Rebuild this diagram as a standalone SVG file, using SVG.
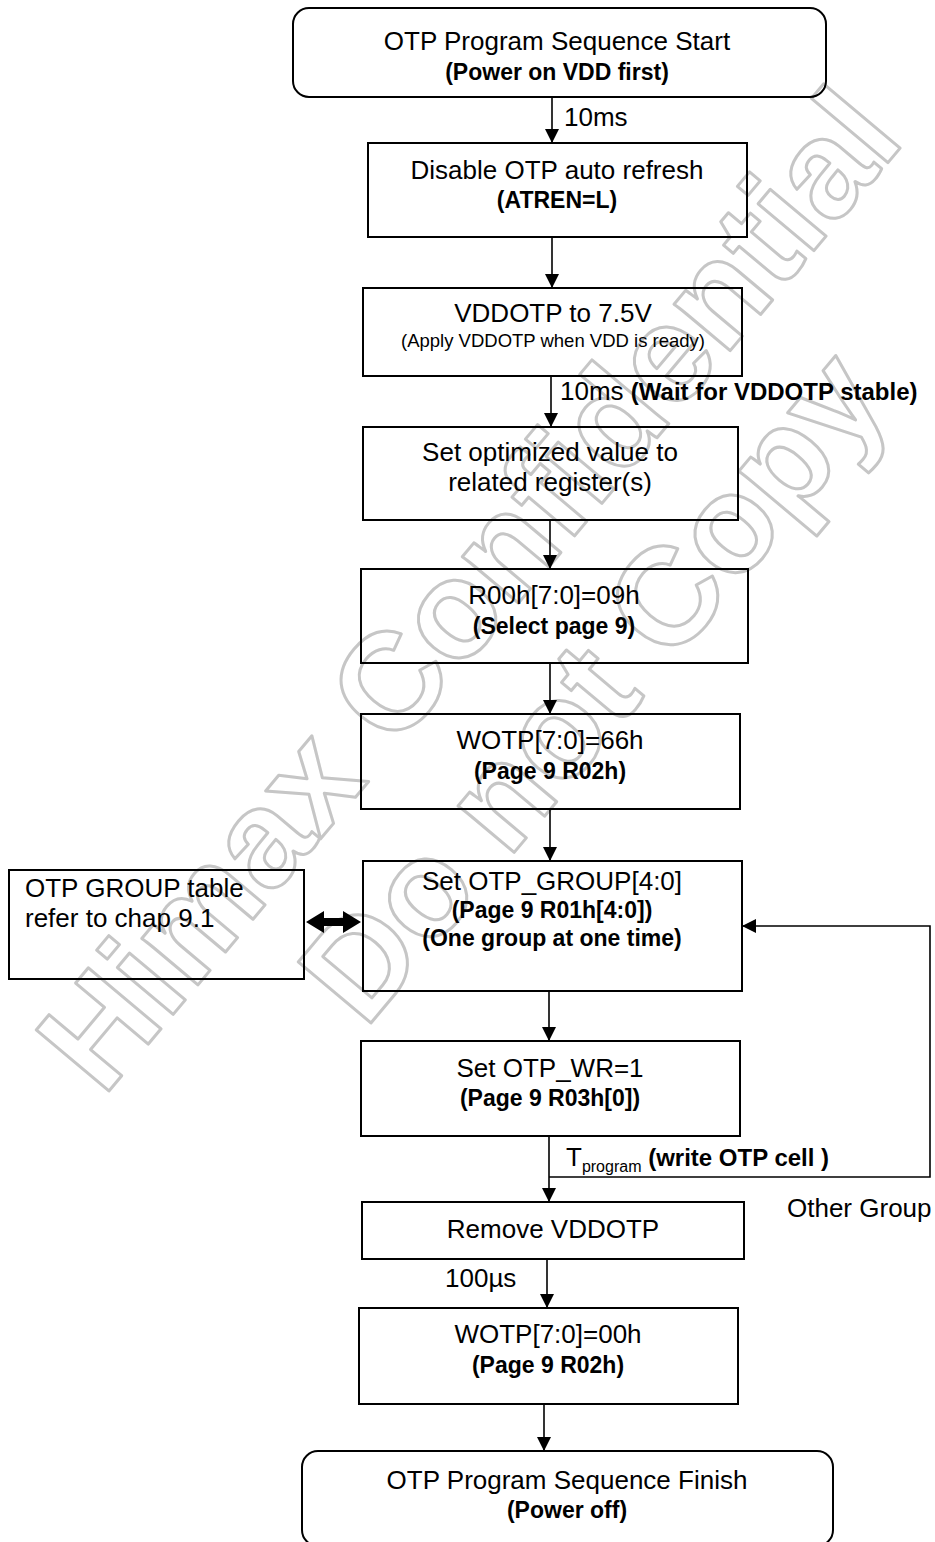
<svg xmlns="http://www.w3.org/2000/svg" width="935" height="1542" viewBox="0 0 935 1542">
<style>
.box{fill:none;stroke:#000;stroke-width:2}
.t{font-family:"Liberation Sans",Arial,sans-serif;font-size:26px;fill:#000;text-anchor:middle}
.b{font-family:"Liberation Sans",Arial,sans-serif;font-size:23px;font-weight:bold;fill:#000;text-anchor:middle}
.s{font-family:"Liberation Sans",Arial,sans-serif;font-size:18.5px;fill:#000;text-anchor:middle}
.l{font-family:"Liberation Sans",Arial,sans-serif;font-size:26px;fill:#000}
.con{fill:none;stroke:#000;stroke-width:1.6}
.wm{font-family:"Liberation Sans",Arial,sans-serif;font-size:138px;font-weight:bold;fill:none;stroke:#c6c6c6;stroke-width:3;stroke-linejoin:round}
</style>
<defs>
<marker id="ah" viewBox="0 0 14 14" refX="14" refY="7" markerWidth="14" markerHeight="14" markerUnits="userSpaceOnUse" orient="auto">
<path d="M0,0 L14,7 L0,14 z" fill="#000"/>
</marker>
</defs>
<g id="watermark">
<text class="wm" transform="translate(103,1098) rotate(-50)">Himax Confidential</text>
<text class="wm" transform="translate(365,1030) rotate(-50)">Do not Copy</text>
</g>
<g id="connectors">
<line class="con" x1="552" y1="97" x2="552" y2="143" marker-end="url(#ah)"/>
<line class="con" x1="552" y1="237" x2="552" y2="288" marker-end="url(#ah)"/>
<line class="con" x1="551" y1="376" x2="551" y2="427" marker-end="url(#ah)"/>
<line class="con" x1="550" y1="520" x2="550" y2="569" marker-end="url(#ah)"/>
<line class="con" x1="550" y1="663" x2="550" y2="714" marker-end="url(#ah)"/>
<line class="con" x1="550" y1="809" x2="550" y2="861" marker-end="url(#ah)"/>
<line class="con" x1="549" y1="991" x2="549" y2="1041" marker-end="url(#ah)"/>
<line class="con" x1="549" y1="1136" x2="549" y2="1202" marker-end="url(#ah)"/>
<path class="con" d="M549,1177 H930 V926 H742" marker-end="url(#ah)"/>
<line class="con" x1="547" y1="1259" x2="547" y2="1308" marker-end="url(#ah)"/>
<line class="con" x1="544" y1="1404" x2="544" y2="1451" marker-end="url(#ah)"/>
<polygon points="306,922 324,911 324,918 343,918 343,911 361,922 343,933 343,926 324,926 324,933" fill="#000"/>
<text class="l" x="564" y="126">10ms</text>
<text class="l" x="560" y="400">10ms <tspan font-weight="bold" font-size="24">(Wait for VDDOTP stable)</tspan></text>
<text class="l" x="566" y="1166">T<tspan font-size="16" dy="6">program</tspan><tspan font-weight="bold" font-size="24" dy="-6"> (write OTP cell )</tspan></text>
<text class="l" x="787" y="1217">Other Group</text>
<text class="l" x="445" y="1287">100µs</text>
</g>
<g id="start">
<rect class="box" x="293" y="8" width="533" height="89" rx="16"/>
<text class="t" x="557" y="50">OTP Program Sequence Start</text>
<text class="b" x="557" y="80" font-size="21">(Power on VDD first)</text>
</g>
<g id="disable">
<rect class="box" x="368" y="143" width="379" height="94"/>
<text class="t" x="557" y="179">Disable OTP auto refresh</text>
<text class="b" x="557" y="208">(ATREN=L)</text>
</g>
<g id="vddotp">
<rect class="box" x="363" y="288" width="379" height="88"/>
<text class="t" x="553" y="322">VDDOTP to 7.5V</text>
<text class="s" x="553" y="347">(Apply VDDOTP when VDD is ready)</text>
</g>
<g id="optimize">
<rect class="box" x="363" y="427" width="375" height="93"/>
<text class="t" x="550" y="461">Set optimized value to</text>
<text class="t" x="550" y="491">related register(s)</text>
</g>
<g id="page">
<rect class="box" x="361" y="569" width="387" height="94"/>
<text class="t" x="554" y="604">R00h[7:0]=09h</text>
<text class="b" x="554" y="634">(Select page 9)</text>
</g>
<g id="wotp66">
<rect class="box" x="361" y="714" width="379" height="95"/>
<text class="t" x="550" y="749">WOTP[7:0]=66h</text>
<text class="b" x="550" y="779">(Page 9 R02h)</text>
</g>
<g id="table">
<rect class="box" x="9" y="870" width="295" height="109"/>
<text class="l" x="25" y="897">OTP GROUP table</text>
<text class="l" x="25" y="927">refer to chap 9.1</text>
</g>
<g id="group">
<rect class="box" x="363" y="861" width="379" height="130"/>
<text class="t" x="552" y="890">Set OTP_GROUP[4:0]</text>
<text class="b" x="552" y="918">(Page 9 R01h[4:0])</text>
<text class="b" x="552" y="946">(One group at one time)</text>
</g>
<g id="write">
<rect class="box" x="361" y="1041" width="379" height="95"/>
<text class="t" x="550" y="1077">Set OTP_WR=1</text>
<text class="b" x="550" y="1106">(Page 9 R03h[0])</text>
</g>
<g id="remove">
<rect class="box" x="362" y="1202" width="382" height="57"/>
<text class="t" x="553" y="1238">Remove VDDOTP</text>
</g>
<g id="wotp00">
<rect class="box" x="359" y="1308" width="379" height="96"/>
<text class="t" x="548" y="1343">WOTP[7:0]=00h</text>
<text class="b" x="548" y="1373">(Page 9 R02h)</text>
</g>
<g id="finish">
<rect class="box" x="302" y="1451" width="531" height="95" rx="16"/>
<text class="t" x="567" y="1489">OTP Program Sequence Finish</text>
<text class="b" x="567" y="1518" font-size="21">(Power off)</text>
</g>
</svg>
